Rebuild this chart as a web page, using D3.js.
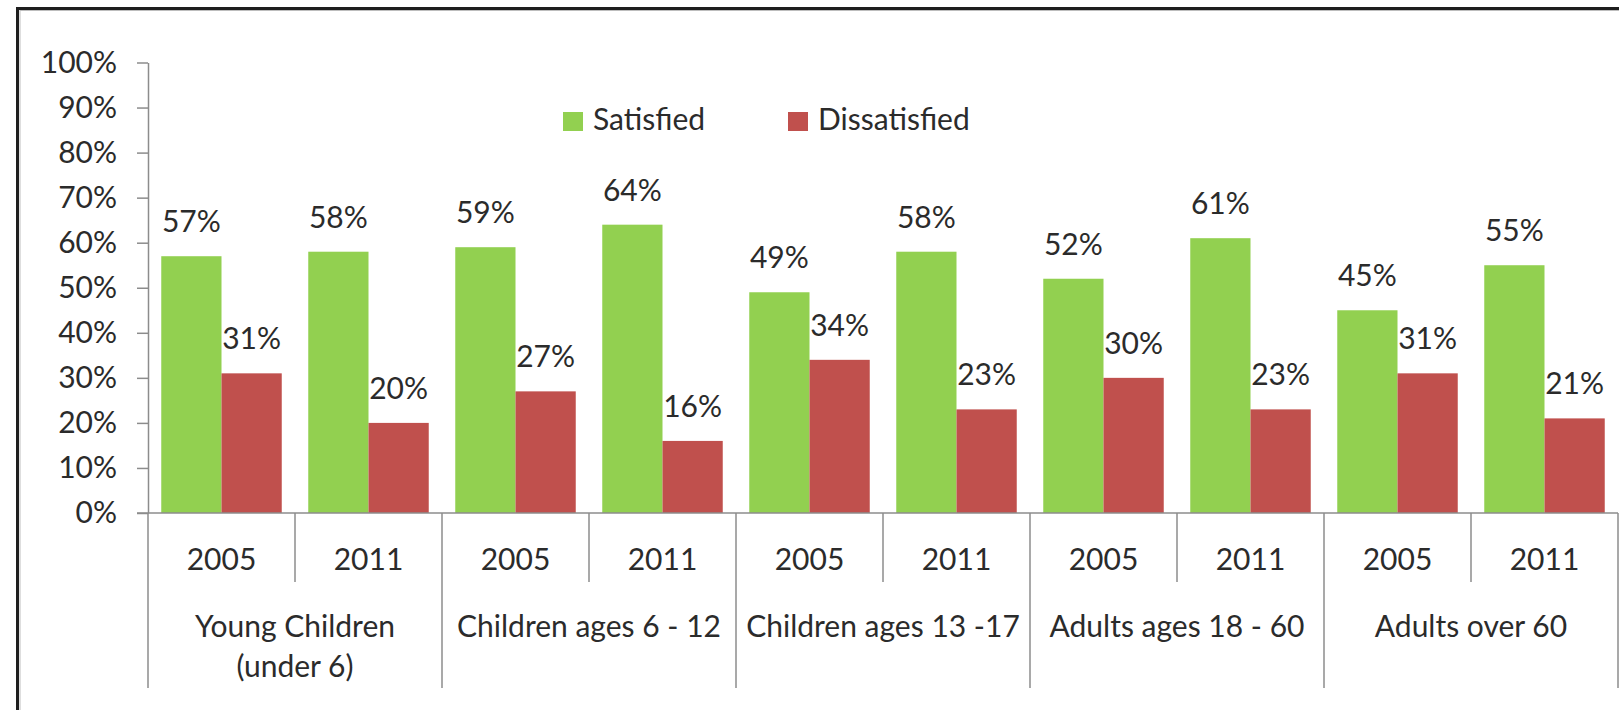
<!DOCTYPE html>
<html>
<head>
<meta charset="utf-8">
<script src="https://cdn.jsdelivr.net/npm/d3@7"></script>
<style>
body { margin: 0; background: #ffffff; }
text { font-family: Lato, "Noto Sans", sans-serif; fill: #2b2b2b; }
</style>
</head>
<body>
<div id="my_dataviz"></div>
<script>
// data
var groups = ["Young Children|(under 6)", "Children ages 6 - 12", "Children ages 13 -17", "Adults ages 18 - 60", "Adults over 60"];
var years = ["2005", "2011"];
var series = ["Satisfied", "Dissatisfied"];
var satisfied = [57, 58, 59, 64, 49, 58, 52, 61, 45, 55];
var dissatisfied = [31, 20, 27, 16, 34, 23, 30, 23, 31, 21];
var yTicks = [0, 10, 20, 30, 40, 50, 60, 70, 80, 90, 100];
var colors = ["#92D050", "#C0504D"];

var W = 1619, H = 710;
var fs = 30;

var svg = d3.select("#my_dataviz")
  .append("svg")
  .attr("width", W)
  .attr("height", H);

// outer frame (cropped on the right and bottom)
svg.append("rect")
  .attr("x", 17.5).attr("y", 8.5)
  .attr("width", W + 20).attr("height", H + 20)
  .attr("fill", "none")
  .attr("stroke", "#1e1e1e")
  .attr("stroke-width", 3);
svg.append("rect")
  .attr("x", 20).attr("y", 10.5)
  .attr("width", W + 20).attr("height", H + 20)
  .attr("fill", "none")
  .attr("stroke", "#bdbdbd")
  .attr("stroke-width", 1);

// slots : one per group/year pair
var slots = d3.range(satisfied.length);
var x = d3.scaleBand()
  .domain(slots)
  .range([148, 1618])
  .padding(0);

var xInner = d3.scaleBand()
  .domain(series)
  .range([0, x.bandwidth()])
  .paddingInner(0)
  .paddingOuter(0.22);

var y = d3.scaleLinear()
  .domain([0, 100])
  .range([513, 62.5]);

// Y axis
var yAxis = svg.append("g")
  .attr("transform", "translate(148,0)")
  .call(d3.axisLeft(y)
    .tickValues(yTicks)
    .tickFormat(function (d) { return d + "%"; })
    .tickSize(11)
    .tickSizeOuter(0)
    .tickPadding(20));
yAxis.select(".domain").attr("stroke", "#8c8c8c").attr("stroke-width", 1.5);
yAxis.selectAll(".tick line").attr("stroke", "#8c8c8c").attr("stroke-width", 1.5);
yAxis.selectAll("text")
  .style("font-family", "Lato, 'Noto Sans', sans-serif")
  .style("font-size", fs + "px")
  .attr("fill", "#2b2b2b");

// bars
var rows = slots.map(function (i) {
  return { i: i, values: [satisfied[i], dissatisfied[i]] };
});

var slotG = svg.append("g")
  .selectAll("g")
  .data(rows)
  .enter()
  .append("g")
  .attr("transform", function (d) { return "translate(" + x(d.i) + ",0)"; });

slotG.selectAll("rect")
  .data(function (d) { return d.values.map(function (v, k) { return { s: series[k], v: v, k: k }; }); })
  .enter()
  .append("rect")
  .attr("x", function (d) { return xInner(d.s); })
  .attr("y", function (d) { return y(d.v); })
  .attr("width", xInner.bandwidth())
  .attr("height", function (d) { return y(0) - y(d.v); })
  .attr("fill", function (d) { return colors[d.k]; });

slotG.selectAll("text")
  .data(function (d) { return d.values.map(function (v, k) { return { s: series[k], v: v, k: k }; }); })
  .enter()
  .append("text")
  .attr("x", function (d) { return xInner(d.s) + xInner.bandwidth() / 2; })
  .attr("y", function (d) { return y(d.v) - 24; })
  .attr("text-anchor", "middle")
  .style("font-size", fs + "px")
  .text(function (d) { return d.v + "%"; });

// baseline
svg.append("line")
  .attr("x1", 137).attr("x2", 1618)
  .attr("y1", y(0)).attr("y2", y(0))
  .attr("stroke", "#8c8c8c").attr("stroke-width", 1.5);

// category separators (short between years, long between groups)
var seps = d3.range(slots.length + 1);
svg.append("g")
  .selectAll("line")
  .data(seps)
  .enter()
  .append("line")
  .attr("x1", function (d) { return d < slots.length ? x(d) : x(d - 1) + x.bandwidth(); })
  .attr("x2", function (d) { return d < slots.length ? x(d) : x(d - 1) + x.bandwidth(); })
  .attr("y1", y(0))
  .attr("y2", function (d) { return d % 2 === 0 ? 688 : 582; })
  .attr("stroke", "#8c8c8c").attr("stroke-width", 1.5);

// year labels
svg.append("g")
  .selectAll("text")
  .data(slots)
  .enter()
  .append("text")
  .attr("x", function (d) { return x(d) + x.bandwidth() / 2; })
  .attr("y", 570)
  .attr("text-anchor", "middle")
  .style("font-size", fs + "px")
  .text(function (d) { return years[d % 2]; });

// group labels
var gl = svg.append("g")
  .selectAll("text")
  .data(groups)
  .enter()
  .append("text")
  .attr("text-anchor", "middle")
  .style("font-size", fs + "px");
gl.selectAll("tspan")
  .data(function (d, i) { return d.split("|").map(function (t) { return { t: t, i: i }; }); })
  .enter()
  .append("tspan")
  .attr("x", function (d) { return x(d.i * 2) + x.bandwidth(); })
  .attr("y", function (d, j) { return 637 + j * 40; })
  .text(function (d) { return d.t; });

// legend
var legend = svg.append("g")
  .selectAll("g")
  .data(series)
  .enter()
  .append("g")
  .attr("transform", function (d, i) { return "translate(" + [563, 788][i] + ",112)"; });
legend.append("rect")
  .attr("width", 20).attr("height", 19)
  .attr("fill", function (d, i) { return colors[i]; });
legend.append("text")
  .attr("x", 30).attr("y", 18)
  .style("font-size", fs + "px")
  .text(function (d) { return d; });
</script>
</body>
</html>
